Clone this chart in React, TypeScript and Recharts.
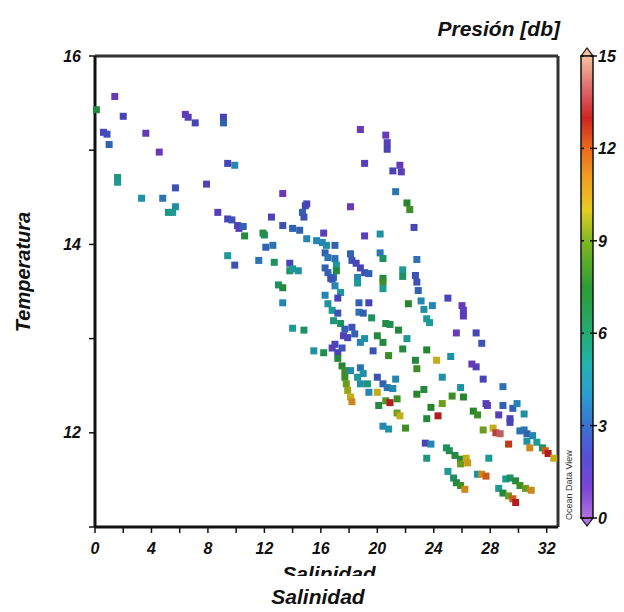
import { ScatterChart, Scatter, XAxis, YAxis, ReferenceLine } from "recharts";

// Salinidad, temperatura y presión de cada muestra
const salinidad = [
  1.4, 0.1, 2.0, 0.6, 0.85, 1.0, 3.6, 4.55, 6.4, 6.6, 7.1, 9.1, 9.1, 9.4, 9.9, 1.6, 1.6, 3.3, 4.8, 5.7,
  5.7, 5.2, 5.5, 7.9, 8.7, 9.4, 9.7, 10.1, 10.2, 10.5, 10.6, 9.4, 9.9,
  11.6, 11.9, 12.0, 13.3, 12.5, 13.3, 14.0, 14.5, 12.1, 12.6, 12.7, 13.8, 13.8, 14.0, 14.4, 13.0, 13.3, 13.3,
  14.9, 14.7, 15.0, 14.0, 14.8, 15.0, 14.8, 15.7, 16.2, 16.4, 17.0, 16.3, 16.5, 17.0, 17.1, 17.1, 16.3, 16.9,
  18.8, 20.6, 20.7, 20.7, 19.1, 21.1, 21.6, 21.7, 21.3, 22.1, 22.3, 22.6, 18.1, 18.1, 18.2, 18.5, 18.8, 19.1,
  19.4, 19.1, 20.2, 20.2, 20.4, 20.4, 21.8, 21.8, 22.8, 22.7, 18.6, 16.8, 16.1,
  16.5, 16.7, 17.0, 17.4, 17.2, 16.3, 16.5, 16.8, 17.2, 16.9, 17.4, 17.7, 17.6, 17.9, 17.0, 16.8, 17.2, 17.5,
  17.2, 17.5, 17.7, 17.7, 17.8, 17.9, 18.1, 18.2, 15.5, 16.2, 18.4, 18.2, 18.7, 18.7, 19.0, 19.4, 19.6, 18.6,
  18.8, 19.1, 19.7, 20.0, 20.4, 20.6, 20.9, 21.5, 20.8, 21.8, 22.1, 20.4, 20.4, 22.2, 22.7, 22.8, 18.1, 18.6,
  18.8, 19.0, 18.8, 19.3, 19.4, 20.0, 20.4, 20.7, 21.3, 21.1, 20.0, 20.1, 20.6, 20.9, 21.4, 21.4, 21.6, 20.4,
  20.8,
  22.8, 22.9, 23.1, 23.3, 23.9, 23.5, 23.7, 25.0, 26.0, 26.1, 26.1, 25.6, 27.0, 27.4, 23.5, 25.2, 24.2, 24.6,
  26.7, 27.0, 27.5, 28.9, 25.9, 26.1, 25.3, 23.3, 22.8, 24.6, 23.8, 23.5, 24.3, 26.8, 27.1, 27.7, 27.8, 28.9,
  28.6, 29.6, 29.9, 30.4, 29.4,
  22.0, 23.4, 23.8, 23.5, 24.9, 25.1, 25.5, 25.9, 25.9, 26.3, 26.4, 27.9, 25.0, 25.4, 25.6, 25.9, 26.2, 27.1,
  27.4, 27.7, 29.4, 27.5, 28.2, 28.4, 28.7, 29.3, 30.4, 30.6, 31.0, 30.6, 31.3, 31.7, 31.9, 32.1, 32.5, 30.8,
  29.1, 29.4, 29.8, 30.1, 30.5, 30.9, 28.6, 28.9, 29.3, 29.6, 29.8, 30.1,
];

const temperatura = [
  15.57, 15.43, 15.36, 15.19, 15.17, 15.06, 15.18, 14.98, 15.38, 15.35, 15.29, 15.35, 15.29, 14.86, 14.84,
  14.71, 14.66, 14.49, 14.49, 14.6, 14.4, 14.34, 14.34, 14.64, 14.34, 14.27, 14.26, 14.2, 14.17, 14.19, 14.09,
  13.88, 13.78,
  13.83, 14.12, 14.1, 14.54, 14.29, 14.2, 14.17, 14.15, 13.97, 13.99, 13.81, 13.8, 13.72, 13.74, 13.72, 13.57,
  13.54, 13.38, 14.41, 14.34, 14.06, 13.11, 13.09, 14.43, 14.29, 14.04, 14.12, 13.99, 13.99, 13.91, 13.86,
  13.85, 13.78, 13.72, 13.75, 13.65,
  15.22, 15.16, 15.08, 15.01, 14.86, 14.78, 14.84, 14.77, 14.56, 14.44, 14.37, 14.18, 14.4, 13.9, 13.83, 13.8,
  13.75, 13.7, 13.69, 14.09, 14.11, 13.91, 13.85, 13.64, 13.73, 13.66, 13.84, 13.67, 13.65, 13.63, 14.02,
  13.7, 13.64, 13.56, 13.49, 13.43, 13.46, 13.37, 13.3, 13.27, 13.19, 13.16, 13.1, 13.03, 13.01, 12.94, 12.9,
  12.85, 12.9, 12.79, 12.71, 12.66, 12.59, 12.52, 12.45, 12.38, 12.33, 12.87, 12.85, 13.05, 13.12, 13.38,
  13.28, 13.27, 13.38, 13.22, 13.59, 12.96, 13.0, 12.87, 13.03, 12.96, 13.16, 13.15, 13.09, 12.82, 12.89, 13.0,
  13.6, 13.53, 13.37, 12.77, 12.68, 12.66, 12.59, 12.69, 12.63, 12.52, 12.52, 12.43, 12.59, 12.52, 12.48,
  12.57, 12.47, 12.43, 12.29, 12.34, 12.32, 12.36, 12.21, 12.18, 12.07, 12.04,
  13.6, 13.51, 13.4, 13.31, 13.35, 13.21, 13.17, 13.43, 13.35, 13.3, 13.24, 13.06, 13.06, 12.95, 12.88, 12.81,
  12.77, 12.59, 12.73, 12.7, 12.57, 12.49, 12.48, 12.38, 12.39, 12.46, 12.41, 12.31, 12.27, 12.15, 12.18,
  12.23, 12.19, 12.31, 12.29, 12.29, 12.19, 12.26, 12.31, 12.2, 12.15,
  12.05, 11.89, 11.88, 11.73, 11.84, 11.81, 11.76, 11.72, 11.67, 11.73, 11.68, 11.73, 11.59, 11.52, 11.47,
  11.44, 11.4, 11.56, 11.56, 11.54, 12.11, 12.03, 12.05, 12.0, 11.99, 11.88, 12.03, 11.99, 11.97, 11.91, 11.9,
  11.84, 11.81, 11.78, 11.73, 11.84, 11.51, 11.52, 11.49, 11.44, 11.41, 11.39, 11.41, 11.36, 11.33, 11.3,
  11.26, 12.02,
];

const presion = [
  1, 7, 2, 2, 2.5, 3, 1, 1, 1, 1.5, 2, 2, 3, 2, 4, 5.5, 5, 4.5, 3.5, 2.5, 4.5, 5.5, 5, 1.5, 1.5, 2, 2.5, 2,
  1.5, 3, 7, 5, 2.5,
  3.5, 7, 6.5, 1, 2, 2.5, 3, 3, 3, 3.5, 6, 2, 6, 5, 4.5, 6, 7, 4, 2, 3, 4, 5, 6, 2, 2.5, 4, 1.5, 4.5, 3, 3,
  3.5, 3.5, 5, 7, 3, 3.5,
  1, 1, 1.5, 2, 1.5, 2, 1, 1.5, 3.5, 7.5, 8, 2, 1, 3, 2.5, 2, 2, 2.5, 3, 1.5, 4.5, 3.5, 6, 7, 5, 6, 3.5, 2.5,
  4, 3, 4,
  3, 2.5, 4, 4.5, 2, 4, 4.5, 5, 2.5, 5.5, 6, 3, 1.5, 2, 2, 1.5, 2, 2.5, 7, 7.5, 8, 8, 9, 9.5, 10, 11, 4.5,
  6.5, 3, 2.5, 3, 3.5, 3, 2, 6, 5, 4, 4.5, 2.5, 7, 7, 7, 6.5, 7, 8, 7, 5, 8, 5, 7.5, 7, 8, 4, 5, 3.5, 4.5,
  4.5, 5.5, 4, 2.5, 3, 3.5, 4, 4, 10, 7, 8.5, 13, 8, 9, 10, 4, 4.5,
  2.5, 3, 4, 4.5, 4, 5, 5, 2, 1, 1.5, 1.5, 1, 2, 2.5, 7.5, 4.5, 10, 4.5, 1, 1.5, 2, 3.5, 4.5, 7.5, 8, 7, 7.5,
  9, 7.5, 7, 13, 7.5, 8, 1.5, 1.5, 3, 1.5, 3, 4, 4.5, 2,
  8, 2, 4, 5.5, 6, 6.5, 7, 7, 9, 10, 10.5, 5, 5, 6, 7, 8, 11, 4.5, 11, 12, 2, 9, 10, 13.5, 14, 12.5, 3.5, 3,
  4, 4.5, 5, 6, 12, 13, 10, 11, 5, 6, 7, 8, 9, 11, 5, 7, 9, 12, 13, 3.5,
];

const ticksSalinidad = [0, 2, 4, 6, 8, 10, 12, 14, 16, 18, 20, 22, 24, 26, 28, 30, 32];
const ticksTemperatura = [11, 12, 13, 14, 15, 16];
const ticksPresion = [0, 3, 6, 9, 12, 15];

// escala de color tipo Ocean Data View (presión -> color)
const paletaNiveles = [0, 1, 2, 3, 4, 5, 6, 7.5, 9, 10, 11, 12, 13, 14, 15];
const paletaColores = [
  "#b070e0", "#7a44d8", "#5550d8", "#3a72d0", "#2a9ed0", "#22b4b0", "#22ac72", "#2e9c34",
  "#7fb822", "#e6cc20", "#f0a020", "#ec6a1c", "#d02222", "#e07070", "#f6c0a0",
];

const datos = salinidad.map((s, i) => ({ s, t: temperatura[i], p: presion[i] }));

function hexARgb(h: string) {
  return [1, 3, 5].map((k) => parseInt(h.slice(k, k + 2), 16));
}

function colorPresion(p: number, oscuro = 1) {
  let c = hexARgb(paletaColores[paletaColores.length - 1]);
  if (p <= paletaNiveles[0]) c = hexARgb(paletaColores[0]);
  else {
    for (let i = 1; i < paletaNiveles.length; i++) {
      if (p <= paletaNiveles[i]) {
        const f = (p - paletaNiveles[i - 1]) / (paletaNiveles[i] - paletaNiveles[i - 1]);
        const a = hexARgb(paletaColores[i - 1]);
        const b = hexARgb(paletaColores[i]);
        c = a.map((v, k) => v + (b[k] - v) * f);
        break;
      }
    }
  }
  const r = c.map((v) => Math.round(v * oscuro));
  return `rgb(${r[0]},${r[1]},${r[2]})`;
}

const fuente = "'Liberation Sans', Arial, sans-serif";
const estiloTexto = { fontFamily: fuente, fontWeight: 700, fontStyle: "italic" as const, fill: "#111" };

// los puntos del original se ven algo más apagados que la barra
const Cuadro = (props: any) => {
  const { cx, cy, payload } = props;
  return <rect x={cx - 3.5} y={cy - 3.5} width={7} height={7} fill={colorPresion(payload.p, 0.85)} />;
};

// barra de color
const barraX = 581;
const barraAncho = 12;
const barraArriba = 56;
const barraAbajo = 518;
const yBarra = (p: number) => barraAbajo - (p / 15) * (barraAbajo - barraArriba);

function BarraColor() {
  return (
    <svg width={624} height={612} style={{ position: "absolute", left: 0, top: 0, pointerEvents: "none" }}>
      <defs>
        <linearGradient id="grad" x1="0" y1="1" x2="0" y2="0">
          {paletaNiveles.map((n, i) => (
            <stop key={n} offset={n / 15} stopColor={paletaColores[i]} />
          ))}
        </linearGradient>
        <clipPath id="corte">
          <rect x={0} y={555} width={624} height={21} />
        </clipPath>
      </defs>
      <polygon
        points={`${barraX},${barraArriba} ${barraX + barraAncho / 2},${barraArriba - 8} ${barraX + barraAncho},${barraArriba}`}
        fill={paletaColores[paletaColores.length - 1]}
        stroke="#111"
        strokeWidth={1.2}
      />
      <polygon
        points={`${barraX},${barraAbajo} ${barraX + barraAncho / 2},${barraAbajo + 8} ${barraX + barraAncho},${barraAbajo}`}
        fill={paletaColores[0]}
        stroke="#111"
        strokeWidth={1.2}
      />
      <rect x={barraX} y={barraArriba} width={barraAncho} height={barraAbajo - barraArriba} fill="url(#grad)" stroke="#111" strokeWidth={1.5} />
      {ticksPresion.map((p) => (
        <g key={p}>
          <line x1={barraX} x2={barraX + 3} y1={yBarra(p)} y2={yBarra(p)} stroke="#111" strokeWidth={1.5} />
          <line x1={barraX + barraAncho - 3} x2={barraX + barraAncho + 4} y1={yBarra(p)} y2={yBarra(p)} stroke="#111" strokeWidth={1.5} />
          <text x={barraX + barraAncho + 5} y={yBarra(p) + 6} fontSize={16} {...estiloTexto}>
            {p}
          </text>
        </g>
      ))}
      <text x={572} y={520} transform="rotate(-90 572 520)" fontSize={9} fontFamily={fuente} fill="#333">
        Ocean Data View
      </text>
      <text x={560} y={36} textAnchor="end" fontSize={21} {...estiloTexto}>
        Presión [db]
      </text>
      <text x={30} y={272} textAnchor="middle" transform="rotate(-90 30 272)" fontSize={20} {...estiloTexto}>
        Temperatura
      </text>
      <g clipPath="url(#corte)">
        <text x={329} y={581} textAnchor="middle" fontSize={21} {...estiloTexto}>
          Salinidad
        </text>
      </g>
      <text x={318} y={604} textAnchor="middle" fontSize={21} {...estiloTexto}>
        Salinidad
      </text>
    </svg>
  );
}

export default function App() {
  return (
    <div style={{ position: "absolute", left: 0, top: 0, width: 624, height: 612, background: "#fff" }}>
      <ScatterChart width={624} height={612} margin={{ top: 56, right: 66, left: 0, bottom: 0 }}>
        <XAxis
          xAxisId="s"
          dataKey="s"
          type="number"
          domain={[0, 32.8]}
          ticks={ticksSalinidad}
          tickFormatter={(v: number) => (v % 4 === 0 ? String(v) : "")}
          height={85}
          axisLine={{ stroke: "#111", strokeWidth: 3 }}
          tickLine={{ stroke: "#111", strokeWidth: 1.5 }}
          tickSize={6}
          tickMargin={10}
          tick={{ fontSize: 16, ...estiloTexto }}
          interval={0}
        />
        <YAxis
          yAxisId="t"
          dataKey="t"
          type="number"
          domain={[11, 16]}
          ticks={ticksTemperatura}
          tickFormatter={(v: number) => (v % 2 === 0 ? String(v) : "")}
          width={95}
          axisLine={{ stroke: "#111", strokeWidth: 3 }}
          tickLine={{ stroke: "#111", strokeWidth: 1.5 }}
          tickSize={6}
          tickMargin={8}
          tick={{ fontSize: 16, ...estiloTexto }}
          interval={0}
        />
        <ReferenceLine xAxisId="s" yAxisId="t" y={16} stroke="#333" strokeWidth={3} />
        <ReferenceLine xAxisId="s" yAxisId="t" x={32.8} stroke="#333" strokeWidth={3} />
        <Scatter data={datos} xAxisId="s" yAxisId="t" shape={Cuadro} isAnimationActive={false} />
      </ScatterChart>
      <BarraColor />
    </div>
  );
}
